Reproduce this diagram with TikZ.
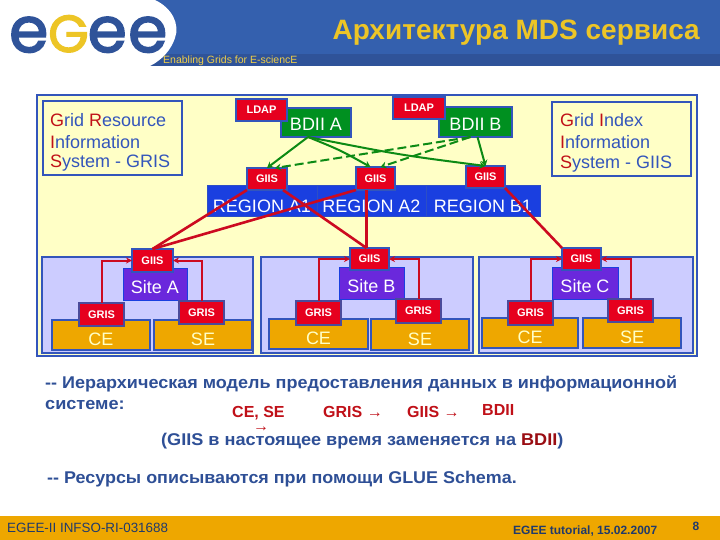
\documentclass[tikz,border=0pt]{standalone}
\usepackage{fontspec}
\setmainfont{Liberation Sans}
\newfontfamily\logofont[FakeBold=2.6]{Poppins}
\usetikzlibrary{arrows.meta}
\definecolor{hdr}{HTML}{3460AE}
\definecolor{hdrdark}{HTML}{2F5399}
\definecolor{gold}{HTML}{EDC526}
\definecolor{frameblue}{HTML}{3355BB}
\definecolor{paleyellow}{HTML}{FFFFC6}
\definecolor{palelilac}{HTML}{CCCCFF}
\definecolor{orangefill}{HTML}{EEA700}
\definecolor{sitefill}{HTML}{6A28DC}
\definecolor{redfill}{HTML}{E6001E}
\definecolor{greenfill}{HTML}{009020}
\definecolor{regionfill}{HTML}{1A3FE0}
\definecolor{grisline}{HTML}{4B4B9B}
\definecolor{txtblue}{HTML}{2E4F96}
\definecolor{darkred}{HTML}{C01018}
\definecolor{linered}{HTML}{CC0A20}
\definecolor{linegreen}{HTML}{0C8A14}
\newcommand{\fsz}[1]{\fontsize{#1}{#1}\selectfont}
\newcommand{\bx}[7][]{%
  \pgfmathsetmacro{\bxw}{#5-#3}\pgfmathsetmacro{\bxh}{#6-#4}%
  \pgfmathsetmacro{\bxc}{(#5+#3)/2}\pgfmathsetmacro{\bxd}{(#6+#4)/2}%
  \node[#1,minimum width=\bxw pt,minimum height=\bxh pt] (#2) at (\bxc,\bxd) {#7};}
\newcommand{\dn}[2]{\raisebox{-#1pt}[13pt][0pt]{#2}}
\tikzset{
  base/.style={rectangle,inner sep=0pt,outer sep=0pt,text=white,align=center},
  ldapbox/.style={base,fill=redfill,draw=frameblue,line width=1.4pt,font=\bfseries\fsz{11}},
  giisbox/.style={base,fill=redfill,draw=frameblue,line width=1.4pt,font=\bfseries\fsz{11}},
  grisbox/.style={base,fill=redfill,draw=grisline,line width=1.4pt,font=\bfseries\fsz{11}},
  bdiibox/.style={base,fill=greenfill,draw=frameblue,line width=1.4pt,font=\fsz{18}},
  regionbox/.style={base,fill=regionfill,draw=frameblue!70!regionfill,line width=1pt,font=\fsz{18}},
  sitebox/.style={base,fill=sitefill,draw=regionfill,line width=1pt,font=\fsz{18}},
  unitbox/.style={base,fill=orangefill,draw=frameblue,line width=1.4pt,text=paleyellow,font=\fsz{18}},
  panelbox/.style={base,fill=palelilac,draw=frameblue,line width=1.4pt},
  legendbox/.style={base,draw=frameblue,line width=1.4pt},
  up/.style={linered,line width=2.6pt},
  elbow/.style={linered,line width=2pt,-{Stealth[length=6pt,width=6pt]}},
  dn/.style={linegreen,line width=2pt,-{Stealth[length=6pt,width=7pt]}},
  dnd/.style={dn,dash pattern=on 9pt off 4pt},
  para/.style={inner sep=0pt,anchor=west,text=txtblue,font=\bfseries\fsz{17},xscale=1.065},
  redt/.style={inner sep=0pt,anchor=west,text=darkred,font=\bfseries\fsz{16}},
}
\begin{document}
\begin{tikzpicture}[x=1pt,y=-1pt]
\useasboundingbox (0,0) rectangle (720,540);
\fill[white] (0,0) rectangle (720,540);
% header
\fill[hdr] (0,0) rectangle (720,54);
\fill[hdrdark] (0,54) rectangle (720,66);
\fill[white] (0,0) -- (155,0) .. controls (172,8) and (180,24) .. (175,38) .. controls (171,50) and (162,60) .. (150,66) -- (0,66) -- cycle;
\node[inner sep=0pt,anchor=base west,text=hdrdark,font=\logofont] (logo) at (9,52) {\fsz{63}e\hspace{0pt}\textcolor{gold}{\fsz{52}G}\hspace{-1pt}e\hspace{1.5pt}e};
\node[inner sep=0pt,anchor=west,text=gold!85!white,font=\fsz{10.5}] (tag) at (163,60.5) {Enabling Grids for E-sciencE};
\node[inner sep=0pt,anchor=east,text=gold,font=\bfseries\fsz{28}] (title) at (700,33) {Архитектура MDS сервиса};
% main frame
\bx[base,fill=paleyellow,draw=frameblue,line width=1.6pt]{frame}{37}{95}{697}{356}{}
\bx[legendbox]{legL}{43}{101}{182}{175}{}
\node[inner sep=0pt,anchor=west,text=frameblue,font=\fsz{18}] (l1) at (50,120) {\textcolor{darkred}{G}rid \textcolor{darkred}{R}esource};
\node[inner sep=0pt,anchor=west,text=frameblue,font=\fsz{18}] (l2) at (50,142) {\textcolor{darkred}{I}nformation};
\node[inner sep=0pt,anchor=west,text=frameblue,font=\fsz{18}] (l3) at (50,163) {\textcolor{darkred}{S}ystem - GRIS};
\bx[legendbox]{legR}{552}{102}{691}{176}{}
\node[inner sep=0pt,anchor=west,text=frameblue,font=\fsz{18}] (r1) at (560,120) {\textcolor{darkred}{G}rid \textcolor{darkred}{I}ndex};
\node[inner sep=0pt,anchor=west,text=frameblue,font=\fsz{18}] (r2) at (560,142) {\textcolor{darkred}{I}nformation};
\node[inner sep=0pt,anchor=west,text=frameblue,font=\fsz{18}] (r3) at (560,164) {\textcolor{darkred}{S}ystem - GIIS};
% panels
\bx[panelbox]{panA}{42}{257}{253}{353}{}
\bx[panelbox]{panB}{261}{257}{473}{353}{}
\bx[panelbox]{panC}{479}{257}{693}{353}{}
% top
\bx[bdiibox]{bdA}{281}{108}{351}{137}{\dn{2}{BDII A}}
\bx[bdiibox]{bdB}{439}{107}{512}{137}{\dn{2}{BDII B}}
\bx[ldapbox]{ldA}{236}{99}{287}{121}{LDAP}
\bx[ldapbox]{ldB}{393}{97}{445}{119}{LDAP}
% regions
\bx[regionbox]{regA}{207}{186}{317}{217}{\dn{4}{REGION A1}}
\bx[regionbox]{regB}{317}{186}{426}{217}{\dn{4}{REGION A2}}
\bx[regionbox]{regC}{426}{186}{540}{217}{\dn{4}{REGION B1}}
\bx[giisbox]{gA}{247}{168}{287}{190}{GIIS}
\bx[giisbox]{gB}{356}{167}{395}{190}{GIIS}
\bx[giisbox]{gC}{466}{166}{505}{188}{GIIS}
% Site A
\bx[unitbox]{ceA}{52}{320}{150}{350}{\dn{4}{CE}}
\bx[unitbox]{seA}{154}{320}{252}{350}{\dn{4}{SE}}
\bx[sitebox]{stA}{123}{268}{187}{300}{\dn{3}{Site A}}
\bx[giisbox]{sgA}{132}{249}{173}{272}{GIIS}
\bx[grisbox]{g1A}{79}{303}{124}{326}{GRIS}
\bx[grisbox]{g2A}{179}{301}{224}{324}{GRIS}
% Site B
\bx[unitbox]{ceB}{269}{319}{368}{349}{\dn{4}{CE}}
\bx[unitbox]{seB}{371}{319}{469}{350}{\dn{4}{SE}}
\bx[sitebox]{stB}{339}{267}{404}{299}{\dn{3}{Site B}}
\bx[giisbox]{sgB}{350}{248}{389}{270}{GIIS}
\bx[grisbox]{g1B}{296}{301}{341}{325}{GRIS}
\bx[grisbox]{g2B}{396}{299}{441}{323}{GRIS}
% Site C
\bx[unitbox]{ceC}{482}{318}{578}{348}{\dn{4}{CE}}
\bx[unitbox]{seC}{583}{318}{681}{348}{\dn{4}{SE}}
\bx[sitebox]{stC}{552}{267}{618}{299}{\dn{3}{Site C}}
\bx[giisbox]{sgC}{562}{248}{601}{270}{GIIS}
\bx[grisbox]{g1C}{508}{301}{553}{325}{GRIS}
\bx[grisbox]{g2C}{608}{299}{653}{322}{GRIS}
% green connectors
\draw[dn] ([xshift=-8pt]bdA.south) -- (gA.north);
\draw[dn] ([xshift=-8pt]bdA.south) .. controls (340,150) .. ([xshift=-5pt]gB.north);
\draw[dn] ([xshift=-8pt]bdA.south) .. controls (400,155) .. ([xshift=0pt]gC.north);
\draw[dn] ([xshift=2pt]bdB.south) -- ([xshift=0pt]gC.north);
\draw[dnd] ([xshift=-5pt]bdB.south) -- ([xshift=8pt]gA.north);
\draw[dnd] ([xshift=-5pt]bdB.south) -- ([xshift=5pt]gB.north);
% red connectors
\draw[up] (sgA.north) -- (gA.south west);
\draw[up] (sgA.north) -- (gB.south west);
\draw[up] ([xshift=16pt]gA.south) -- ([xshift=-3pt]sgB.north);
\draw[up] ([xshift=-9pt]gB.south) -- ([xshift=-3pt]sgB.north);
\draw[up] (gC.south east) -- (sgC.north west);
\draw[elbow] (g1A.north) |- (sgA.west);
\draw[elbow] (g2A.north) |- (sgA.east);
\draw[elbow] (g1B.north) |- (sgB.west);
\draw[elbow] (g2B.north) |- (sgB.east);
\draw[elbow] (g1C.north) |- (sgC.west);
\draw[elbow] (g2C.north) |- (sgC.east);
% text
\node[para,xscale=0.995] (p1) at (45,384) {-{}- Иерархическая модель предоставления данных в информационной};
\node[para] (p2) at (45,405) {системе:};
\node[redt] (t1) at (232,413) {CE, SE};
\node[redt] (t2) at (323,412) {GRIS →};
\node[redt] (t3) at (407,412) {GIIS →};
\node[redt] (t4) at (482,410) {BDII};
\node[redt] (t5) at (253,429) {→};
\node[para] (p3) at (161,441) {(GIIS в настоящее время заменяется на \textcolor{darkred!80!black}{BDII})};
\node[para,xscale=0.99] (p4) at (47,479) {-{}- Ресурсы описываются при помощи GLUE Schema.};
% footer
\fill[orangefill] (0,516) rectangle (720,540);
\node[inner sep=0pt,anchor=west,text=hdrdark!70!black,font=\fsz{13.4}] (f1) at (7,528) {EGEE-II INFSO-RI-031688};
\node[inner sep=0pt,anchor=west,text=hdrdark!70!black,font=\bfseries\fsz{12}] (f2) at (513,531) {EGEE tutorial, 15.02.2007};
\node[inner sep=0pt,anchor=center,text=hdrdark!70!black,font=\bfseries\fsz{12}] (f3) at (696,526) {8};
\end{tikzpicture}
\end{document}
